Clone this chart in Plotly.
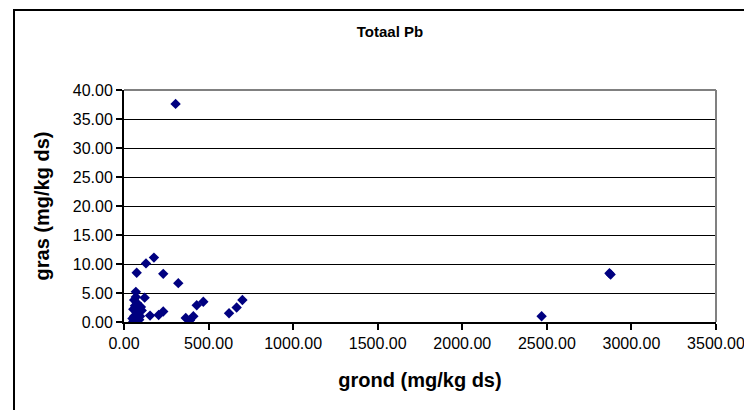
import plotly.graph_objects as go

# grond (mg/kg ds) vs gras (mg/kg ds)
grond = [305, 177, 130, 75, 232, 321, 70, 122, 154, 205, 232, 365, 390, 410, 430, 469,
         621, 666, 700, 2469, 2877, 2870,
         55, 65, 75, 90, 50, 60, 80, 95, 70, 55, 85, 100, 65, 75, 60, 70, 90, 105]
gras = [37.6, 11.1, 10.1, 8.5, 8.3, 6.7, 5.2, 4.2, 1.1, 1.2, 1.8, 0.7, 0.3, 1.0, 2.9, 3.5,
        1.5, 2.5, 3.8, 1.0, 8.2, 8.4,
        0.1, 0.3, 0.1, 0.4, 0.6, 1.0, 1.3, 1.0, 1.8, 2.2, 2.3, 2.6, 2.8, 3.3, 3.8, 4.3, 1.9, 2.0]

x_ticks = [0, 500, 1000, 1500, 2000, 2500, 3000, 3500]
y_ticks = [0, 5, 10, 15, 20, 25, 30, 35, 40]

title_text = "Totaal Pb"
x_title = "grond (mg/kg ds)"
y_title = "gras (mg/kg ds)"

FONT = "Liberation Sans, Arial, sans-serif"

fig = go.Figure()
fig.add_trace(go.Scatter(
    x=grond, y=gras, mode="markers",
    marker=dict(symbol="diamond", size=8, color="#000080", line=dict(width=0)),
    showlegend=False, hoverinfo="x+y"))

# the page body has an 8px default margin, so the figure is 8px smaller
OFF = 8
W, H = 752 - OFF, 410 - OFF
L, R, T, B = 124 - OFF, 36, 90 - OFF, 88
pw, ph = W - L - R, H - T - B

fig.update_layout(
    width=W, height=H,
    margin=dict(l=L, r=R, t=T, b=B, pad=0, autoexpand=False),
    paper_bgcolor="white", plot_bgcolor="white",
    font=dict(family=FONT, color="black", size=15),
    title=dict(text=f"<b>{title_text}</b>", x=(390 - OFF) / W, xanchor="center",
               y=1 - (32 - OFF) / H, yanchor="middle", xref="container",
               yref="container", font=dict(size=15, family=FONT, color="black")),
    xaxis=dict(
        range=[0, 3500], tickvals=x_ticks, ticktext=[f"{v:.2f}" for v in x_ticks],
        showgrid=False, zeroline=False, showline=True, linecolor="black", linewidth=2,
        ticks="outside", ticklen=6, tickwidth=2, tickcolor="black",
        tickfont=dict(size=16, family=FONT, color="black"),
        title=dict(text=f"<b>{x_title}</b>", font=dict(size=20, family=FONT, color="black"), standoff=22),
        automargin=False, fixedrange=True),
    yaxis=dict(
        range=[0, 40], tickvals=y_ticks, ticktext=[f"{v:.2f}" for v in y_ticks],
        showgrid=True, gridcolor="black", gridwidth=1,
        zeroline=False, showline=True, linecolor="black", linewidth=2,
        ticks="outside", ticklen=6, tickwidth=2, tickcolor="black",
        tickfont=dict(size=16, family=FONT, color="black"),
        title=dict(text=f"<b>{y_title}</b>", font=dict(size=20, family=FONT, color="black"), standoff=18),
        automargin=False, fixedrange=True),
    shapes=[
        # gray plot-area border (top and right)
        dict(type="line", xref="paper", yref="paper", x0=0, x1=1, y0=1, y1=1,
             line=dict(color="#808080", width=2), layer="above"),
        dict(type="line", xref="paper", yref="paper", x0=1, x1=1, y0=0, y1=1,
             line=dict(color="#808080", width=2), layer="above"),
        # outer chart frame (extends beyond the visible window on right and bottom)
        dict(type="rect", xref="paper", yref="paper",
             x0=(14 - 124) / pw, x1=(W + 20 - L) / pw,
             y0=-(H + 20 - (H - B)) / ph, y1=((H - B) - (10 - OFF)) / ph,
             line=dict(color="black", width=2), fillcolor="rgba(0,0,0,0)", layer="below"),
    ],
)

fig.write_html("out.html")
